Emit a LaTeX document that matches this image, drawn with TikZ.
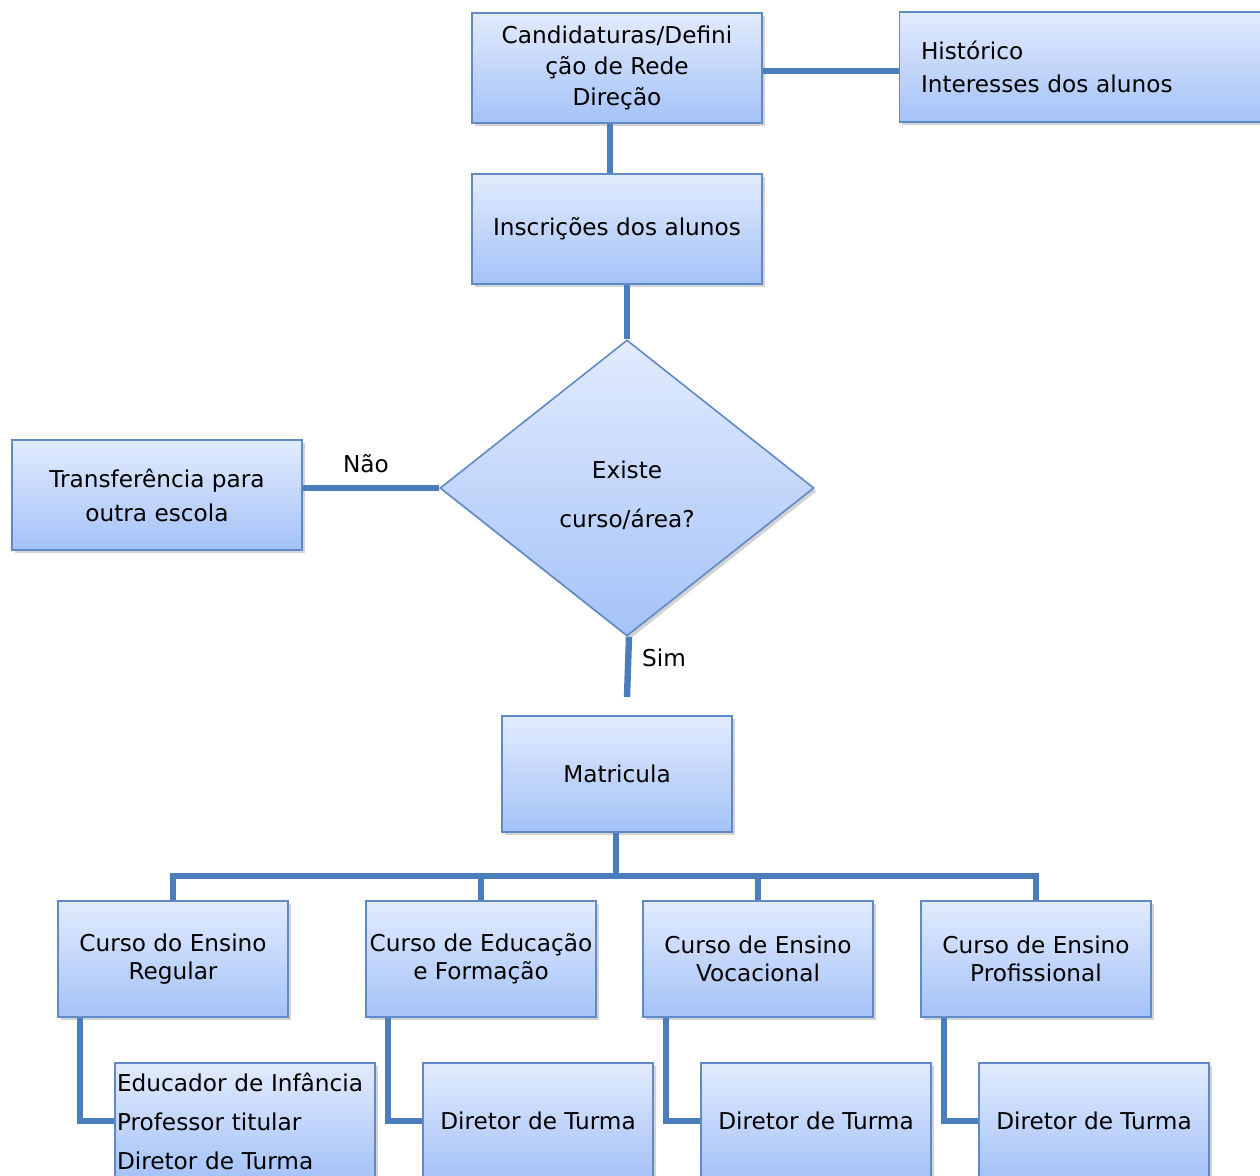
\documentclass[tikz,border=0pt]{standalone}
\usepackage{fontspec}
\setmainfont{DejaVu Sans}
\usetikzlibrary{shapes.geometric,shadows}
\definecolor{boxtop}{RGB}{226,235,253}
\definecolor{boxbot}{RGB}{164,194,248}
\definecolor{boxedge}{RGB}{96,138,198}
\definecolor{linkc}{RGB}{74,125,186}
\newcommand{\fs}[1]{\fontsize{17.4}{#1}\selectfont}
\begin{document}
\begin{tikzpicture}[x=0.75pt,y=-0.75pt,
  every node/.style={font=\fs{22}},
  box/.style={draw=boxedge,line width=1.2pt,top color=boxtop,bottom color=boxbot,
    drop shadow={opacity=0.35,shadow xshift=2pt,shadow yshift=-2.5pt},
    inner sep=2pt,align=center},
  link/.style={draw=linkc,line width=4.8pt},
  lbl/.style={inner sep=0pt}]
\useasboundingbox (0,0) rectangle (1260,1175);
\begin{scope}
\clip (0,0) rectangle (1260,1175);
% top row
\node[box,minimum width=217.5pt,minimum height=82.5pt,font=\fs{23}] (cand) at (617,68)
  {Candidaturas/Defini\\ção de Rede\\Direção};
\node[box,minimum width=272pt,minimum height=82.5pt,text width=240pt,align=left,font=\fs{25}] (hist) at (1081,67)
  {Histórico\\Interesses dos alunos};
\node[box,minimum width=217.5pt,minimum height=82.5pt] (insc) at (617,229) {Inscrições dos alunos};
\node[box,shape=diamond,minimum width=280.5pt,minimum height=222pt,inner sep=0pt] (dec) at (627,488) {};
\node[lbl,align=center,font=\fs{37}] (dectxt) at (627,495) {Existe\\curso/área?};
\node[box,minimum width=217.5pt,minimum height=82.5pt,font=\fs{25.5}] (transf) at (157,495)
  {Transferência para\\outra escola};
\node[box,minimum width=172.5pt,minimum height=87pt] (mat) at (617,774) {Matricula};
% level
\node[box,minimum width=172.5pt,minimum height=87pt,font=\fs{21}] (c1) at (173,959)
  {Curso do Ensino\\Regular};
\node[box,minimum width=172.5pt,minimum height=87pt,font=\fs{21}] (c2) at (481,959)
  {Curso de Educação\\e Formação};
\node[box,minimum width=172.5pt,minimum height=87pt,font=\fs{21}] (c3) at (758,959)
  {Curso de Ensino\\Vocacional};
\node[box,minimum width=172.5pt,minimum height=87pt,font=\fs{21}] (c4) at (1036,959)
  {Curso de Ensino\\Profissional};
% children
\node[box,minimum width=195pt,minimum height=87pt,align=left,text width=192pt,inner sep=1pt,font=\fs{29.25}] (d1) at (245,1121)
  {Educador de Infância\\Professor titular\\Diretor de Turma};
\node[box,minimum width=172.5pt,minimum height=87pt] (d2) at (538,1121) {Diretor de Turma};
\node[box,minimum width=172.5pt,minimum height=87pt] (d3) at (816,1121) {Diretor de Turma};
\node[box,minimum width=172.5pt,minimum height=87pt] (d4) at (1094,1121) {Diretor de Turma};
\end{scope}
% connectors
\coordinate (simend) at (627,697);
\coordinate (bus) at (616,876);
\draw[link] (cand.south -| 610,0) -- (insc.north -| 610,0);
\draw[link] (cand.east |- 0,71) -- (hist.west |- 0,71);
\draw[link] (insc.south -| dec.north) -- (dec.north);
\draw[link] (transf.east |- dec.west) -- (dec.west);
\node[lbl] (nao) at (366,464) {Não};
\draw[link] (dec.south) ++(2,0) -- (simend);
\node[lbl] (sim) at (664,658) {Sim};
\draw[link] (mat.south -| bus) -- (bus);
\draw[link] (c1.north) -- (c1.north |- bus) -- (c4.north |- bus) -- (c4.north);
\draw[link] (c2.north |- bus) -- (c2.north);
\draw[link] (c3.north |- bus) -- (c3.north);
\draw[link] (c1.south -| 80,0) |- (d1.west |- 0,1121);
\draw[link] (c2.south -| 388,0) |- (d2.west);
\draw[link] (c3.south -| 666,0) |- (d3.west);
\draw[link] (c4.south -| 944,0) |- (d4.west);
\end{tikzpicture}
\end{document}
